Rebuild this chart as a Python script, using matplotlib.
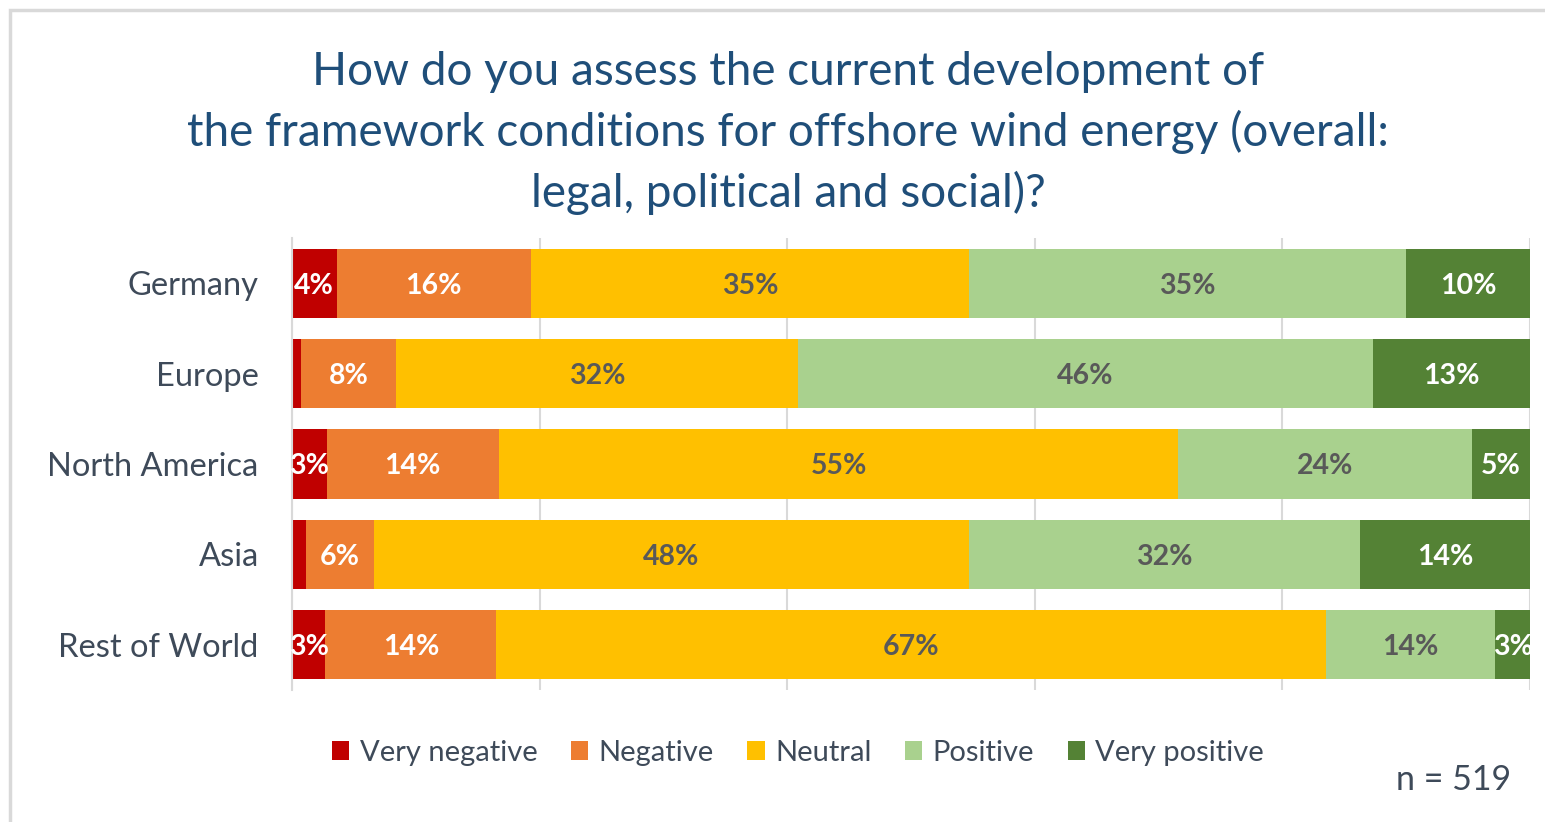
import matplotlib
matplotlib.use("Agg")
import matplotlib.pyplot as plt
from matplotlib.patches import Rectangle, Patch

categories = ["Germany", "Europe", "North America", "Asia", "Rest of World"]
series_names = ["Very negative", "Negative", "Neutral", "Positive", "Very positive"]
very_negative = [3.6, 0.7, 2.8, 1.1, 2.7]
negative = [15.7, 7.7, 13.9, 5.5, 13.8]
neutral = [35.4, 32.5, 54.9, 48.1, 67.0]
positive = [35.3, 46.4, 23.7, 31.6, 13.7]
very_positive = [10.0, 12.7, 4.7, 13.7, 2.8]
series_values = [very_negative, negative, neutral, positive, very_positive]
colors = ["#C00000", "#ED7D31", "#FFC000", "#A9D18E", "#548235"]
label_colors = ["white", "white", "#595959", "#595959", "white"]

FONT = "Lato"
plt.rcParams["font.family"] = [FONT, "DejaVu Sans"]

fig = plt.figure(figsize=(15.45, 8.22), dpi=100)
W, H = 1545, 822
ax = fig.add_axes([292 / W, 1 - 690 / H, (1530 - 292) / W, (690 - 238) / H])

# border of chart area
fig.patches.append(Rectangle((10 / W, -0.2), 1.2, 1.2 - 10 / H, transform=fig.transFigure,
                             fill=False, edgecolor="#D9D9D9", linewidth=2.5, zorder=0))

y = list(range(len(categories)))
left = [0.0] * len(categories)
for name, vals, c, lc in zip(series_names, series_values, colors, label_colors):
    ax.barh(y, vals, left=left, height=0.765, color=c, label=name, zorder=2)
    for i, (v, l) in enumerate(zip(vals, left)):
        if v >= 2:
            ax.text(l + v / 2, i, f"{round(v):d}%", ha="center", va="center_baseline",
                    color=lc, fontsize=20.5, fontweight="bold", zorder=3)
    left = [a + b for a, b in zip(left, vals)]

ax.set_xlim(0, 100)
ax.set_ylim(len(categories) - 0.5, -0.5)
ax.set_xticks([0, 20, 40, 60, 80, 100])
ax.set_xticklabels([])
ax.tick_params(axis="x", length=0)
ax.tick_params(axis="y", length=0, pad=24, labelsize=23.5, labelcolor="#3E4A59")
ax.set_yticks(y)
ax.set_yticklabels(categories)
ax.grid(axis="x", color="#D9D9D9", linewidth=1.5, zorder=0)
for s in ["top", "right", "bottom"]:
    ax.spines[s].set_visible(False)
ax.spines["left"].set_color("#D9D9D9")
ax.spines["left"].set_linewidth(1.5)

fig.text(788 / W, 1 - 133 / H,
         "How do you assess the current development of\nthe framework conditions for offshore wind energy (overall:\nlegal, political and social)?",
         ha="center", va="center", fontsize=33, color="#1F4E79", linespacing=1.47)

handles = [Patch(facecolor=c, edgecolor="none") for c in colors]
fig.legend(handles, series_names, loc="center", bbox_to_anchor=(798 / W, 1 - 753 / H), ncol=5,
           frameon=False, fontsize=21, handlelength=0.6, handleheight=0.6, handletextpad=0.35,
           columnspacing=1.15, labelcolor="#3E4A59")

fig.text(1511 / W, 1 - 780 / H, "n = 519", ha="right", va="center", fontsize=24.5, color="#3E4A59")

fig.savefig("out.png", dpi=100)
